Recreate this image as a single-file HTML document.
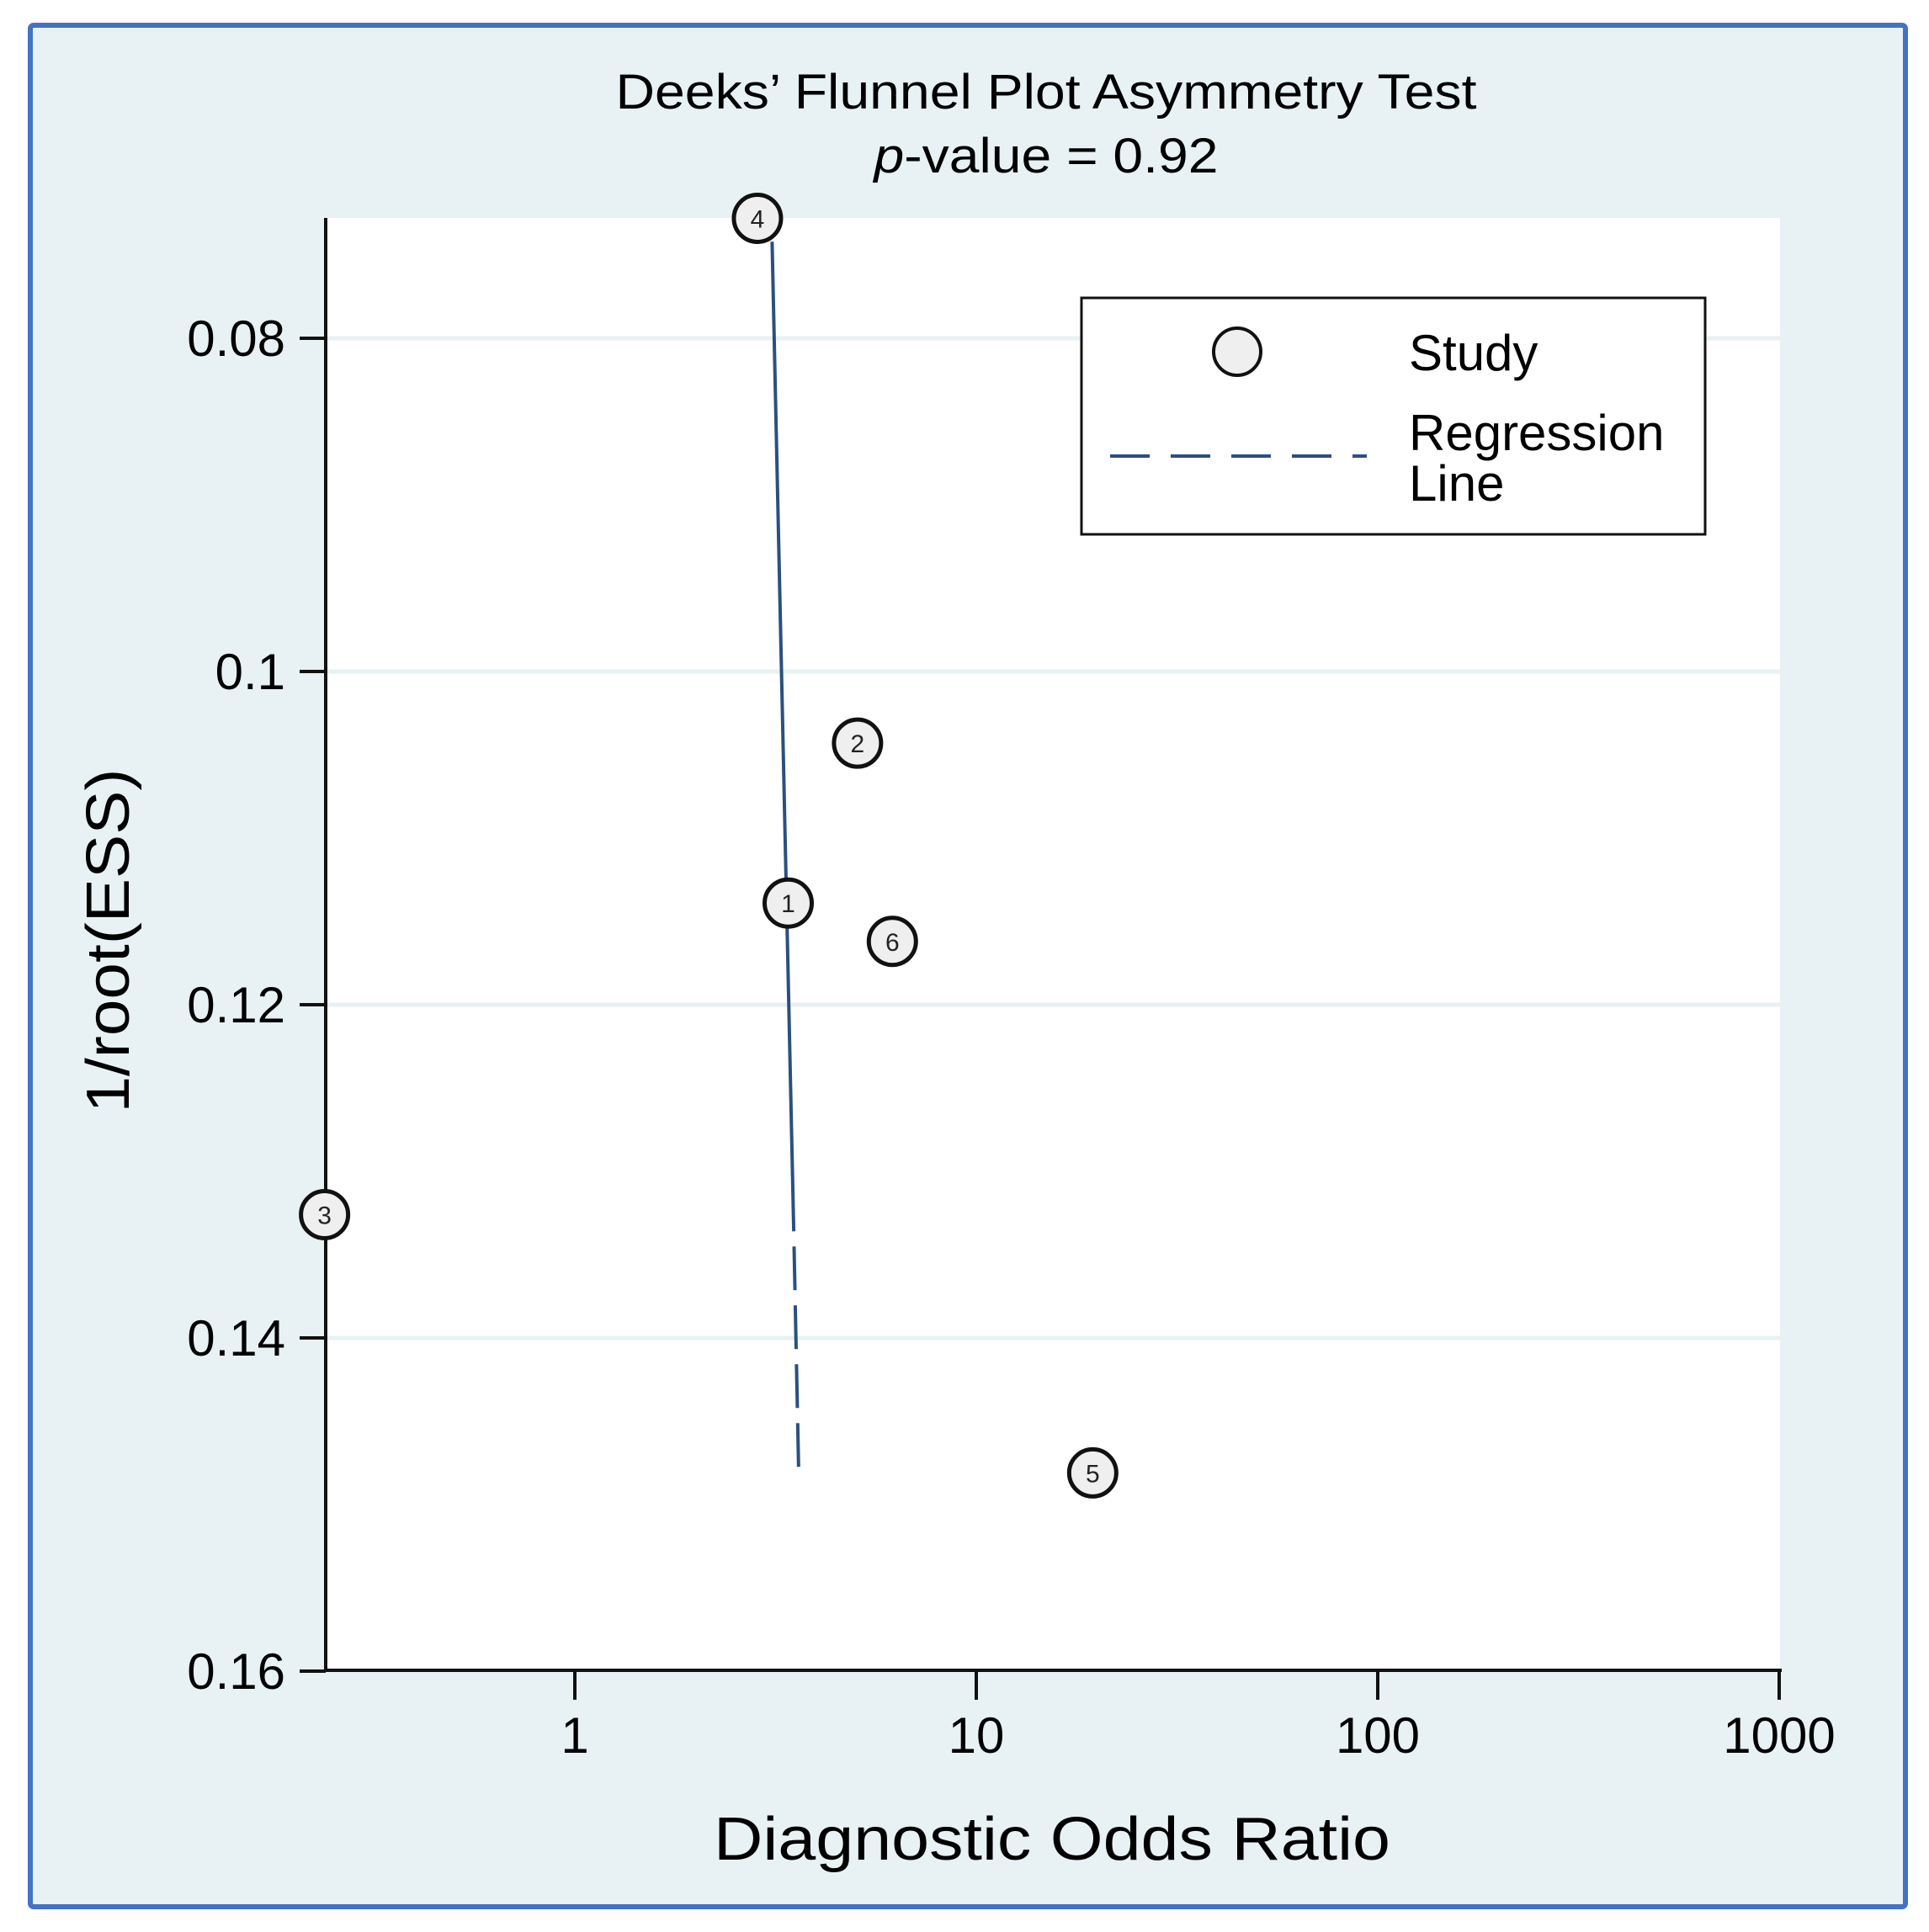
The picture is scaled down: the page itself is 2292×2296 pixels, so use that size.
<!DOCTYPE html>
<html><head><meta charset="utf-8"><style>
html,body{margin:0;padding:0;background:#fff;}
svg{display:block;font-family:"Liberation Sans",Arial,sans-serif;}
</style></head><body>
<svg width="2292" height="2296" viewBox="0 0 2292 2296">
<rect x="36" y="30" width="2228" height="2236" fill="#e8f1f3" stroke="#4472c4" stroke-width="6" rx="4"/>
<text x="1243" y="129" font-size="58" text-anchor="middle" textLength="1023" lengthAdjust="spacingAndGlyphs">Deeks’ Flunnel Plot Asymmetry Test</text>
<text x="1243" y="205" font-size="58" text-anchor="middle" textLength="409" lengthAdjust="spacingAndGlyphs"><tspan font-style="italic">p</tspan>-value = 0.92</text>
<rect x="387" y="259" width="1728" height="1726" fill="#fff"/>
<g id="grid"></g>
<g id="axes"></g>
<g id="reg"></g>
<g id="pts"></g>
<text x="0" y="0" font-size="72" text-anchor="middle" transform="translate(153,1118) rotate(-90)" textLength="409" lengthAdjust="spacingAndGlyphs">1/root(ESS)</text>
<text x="1250" y="2210" font-size="72" text-anchor="middle" textLength="804" lengthAdjust="spacingAndGlyphs">Diagnostic Odds Ratio</text>
<g>
<rect x="1285" y="354" width="741" height="281" fill="#fff" stroke="#111" stroke-width="3"/>
<circle cx="1470" cy="418" r="28" fill="#efefef" stroke="#111" stroke-width="4"/>
<line x1="1319" y1="542" x2="1624" y2="542" stroke="#2a5080" stroke-width="4" stroke-dasharray="47,25"/>
<text x="1674" y="440" font-size="60">Study</text>
<text x="1674" y="535" font-size="60">Regression</text>
<text x="1674" y="595" font-size="60">Line</text>
</g>
</svg>
<script>
const studyIds=[4,2,1,6,3,5];
const studyDOR=[2.85,5.06,3.40,6.18,0.238,19.5];
const studyInvRootESS=[0.0728,0.1043,0.1139,0.1162,0.1326,0.1481];
const regDOR=[3.10,3.51,3.61];
const regY=[0.0742,0.1336,0.1479];
const yTicks=[0.08,0.1,0.12,0.14,0.16];
const yTickLabels=["0.08","0.1","0.12","0.14","0.16"];
const xTicks=[1,10,100,1000];
const xTickLabels=["1","10","100","1000"];
const NS="http://www.w3.org/2000/svg";
function X(v){return 683+Math.log10(v)*477;}
function Y(v){return 402+(v-0.08)/0.02*396;}
function mk(tag,attrs,parent){const e=document.createElementNS(NS,tag);for(const k in attrs)e.setAttribute(k,attrs[k]);parent.appendChild(e);return e;}
const grid=document.getElementById('grid'),axes=document.getElementById('axes'),reg=document.getElementById('reg'),pts=document.getElementById('pts');
yTicks.forEach((t,i)=>{
 if(t<0.16){const g=mk('line',{x1:387,x2:2115,y1:Y(t),y2:Y(t),stroke:'#e8f1f3','stroke-width':5},grid);
 
 }
 const tk=mk('line',{x1:356,x2:387,y1:Y(t),y2:Y(t),stroke:'#111','stroke-width':4},axes);
 
 
 const tx=mk('text',{x:339,y:Y(t)+21,'font-size':60,'text-anchor':'end'},axes);
 tx.textContent=yTickLabels[i];
 
 
});
xTicks.forEach((t,i)=>{
 const tk=mk('line',{x1:X(t),x2:X(t),y1:1985,y2:2020,stroke:'#111','stroke-width':4},axes);
 
 
 const tx=mk('text',{x:X(t),y:2083,'font-size':60,'text-anchor':'middle'},axes);
 tx.textContent=xTickLabels[i];
 
 
});
const ya=mk('line',{x1:387,x2:387,y1:259,y2:1987,stroke:'#111','stroke-width':4},axes);


const xa=mk('line',{x1:385,x2:2117,y1:1985,y2:1985,stroke:'#111','stroke-width':4},axes);


const r1=mk('line',{x1:X(regDOR[0]),y1:Y(regY[0]),x2:X(regDOR[1]),y2:Y(regY[1]),stroke:'#2a5080','stroke-width':4},reg);


const r2=mk('line',{x1:X(regDOR[1]),y1:Y(regY[1]),x2:X(regDOR[2]),y2:Y(regY[2]),stroke:'#2a5080','stroke-width':4,'stroke-dasharray':'52,18','stroke-dashoffset':-18},reg);


studyIds.forEach((id,i)=>{
 const g=mk('g',{},pts);
 
 
 mk('circle',{cx:X(studyDOR[i]),cy:Y(studyInvRootESS[i]),r:28,fill:'#efefef',stroke:'#111','stroke-width':5},g);
 const t=mk('text',{x:X(studyDOR[i]),y:Y(studyInvRootESS[i])+11,'font-size':30,'text-anchor':'middle',fill:'#222'},g);
 t.textContent=id;
});
</script>
</body></html>
